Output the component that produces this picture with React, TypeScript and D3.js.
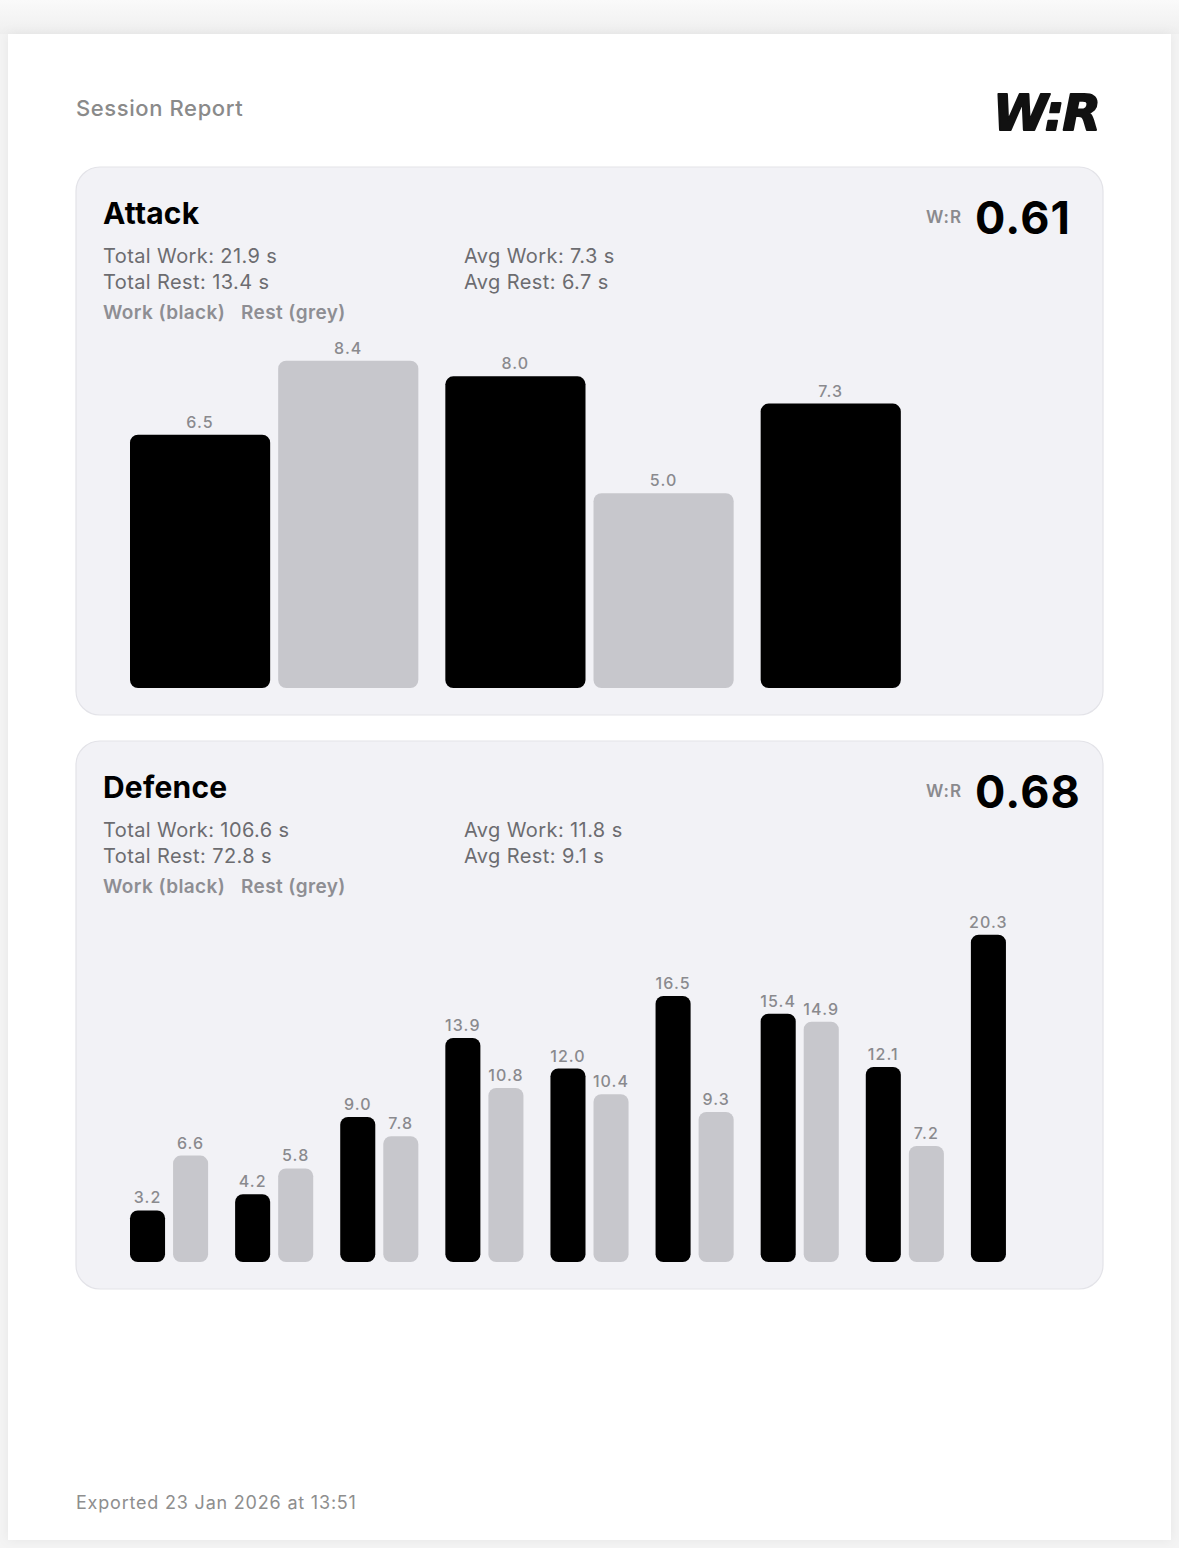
import React from "react";
import * as d3 from "d3";

const W = 1179;
const H = 1548;

const attackWork = [6.5, 8.0, 7.3];
const attackRest = [8.4, 5.0];
const defenceWork = [3.2, 4.2, 9.0, 13.9, 12.0, 16.5, 15.4, 12.1, 20.3];
const defenceRest = [6.6, 5.8, 7.8, 10.8, 10.4, 9.3, 14.9, 7.2];

const attackStats = ["Total Work: 21.9 s", "Total Rest: 13.4 s", "Avg Work: 7.3 s", "Avg Rest: 6.7 s"];
const defenceStats = ["Total Work: 106.6 s", "Total Rest: 72.8 s", "Avg Work: 11.8 s", "Avg Rest: 9.1 s"];

const FONT = "Inter, 'Noto Sans', sans-serif";

type PanelProps = {
  top: number;
  title: string;
  ratio: string;
  stats: string[];
  work: number[];
  rest: number[];
};

function Panel({ top, title, ratio, stats, work, rest }: PanelProps) {
  const px = 76;
  const pw = 1027;
  const ph = 548;
  const n = work.length;
  const max = d3.max([...work, ...rest]) as number;
  const x = d3
    .scaleBand<number>()
    .domain(d3.range(n))
    .range([130, 1076])
    .paddingInner(0)
    .paddingOuter(0);
  const step = x.step();
  const trail = 27;
  const gap = 8;
  const bw = (step - trail - gap) / 2;
  const y = d3.scaleLinear().domain([0, max * 1.1]).range([top + 521, top + 161]);
  const r = Math.min(8, bw / 4.5);

  const bars: { x: number; v: number; fill: string; key: string }[] = [];
  work.forEach((v, i) => bars.push({ x: x(i) as number, v, fill: "#000000", key: "w" + i }));
  rest.forEach((v, i) => bars.push({ x: (x(i) as number) + bw + gap, v, fill: "#c7c7cc", key: "r" + i }));

  const statStyle = { fontFamily: FONT, fontSize: 20, letterSpacing: 0.4, fill: "#6c6c70" } as const;

  return (
    <g>
      <rect x={px} y={top} width={pw} height={ph} rx={24} fill="#f2f2f6" stroke="#e3e3e8" strokeWidth={1.2} />
      <text x={103} y={top + 57} fontFamily={FONT} fontSize={30} fontWeight={700} letterSpacing={0.2} fill="#000">
        {title}
      </text>
      <text x={926} y={top + 56} fontFamily={FONT} fontSize={17} fontWeight={600} letterSpacing={1} fill="#8a8a8e">
        W:R
      </text>
      <text x={975} y={top + 67} fontFamily={FONT} fontSize={45} fontWeight={700} letterSpacing={1.2} fill="#000">
        {ratio}
      </text>
      <text x={103} y={top + 96} {...statStyle}>{stats[0]}</text>
      <text x={103} y={top + 122} {...statStyle}>{stats[1]}</text>
      <text x={464} y={top + 96} {...statStyle}>{stats[2]}</text>
      <text x={464} y={top + 122} {...statStyle}>{stats[3]}</text>
      <text x={103} y={top + 152} fontFamily={FONT} fontSize={19} fontWeight={600} letterSpacing={0.4} fill="#8e8e93">
        Work (black)
      </text>
      <text x={241} y={top + 152} fontFamily={FONT} fontSize={19} fontWeight={600} letterSpacing={0.4} fill="#8e8e93">
        Rest (grey)
      </text>
      {bars.map((b) => (
        <g key={b.key}>
          <rect x={b.x} y={y(b.v)} width={bw} height={y(0) - y(b.v)} rx={r} ry={r} fill={b.fill} />
          <text
            x={b.x + bw / 2}
            y={y(b.v) - 7}
            textAnchor="middle"
            fontFamily={FONT}
            fontSize={16}
            fontWeight={500}
            letterSpacing={1.1}
            fill="#8a8a8e"
          >
            {b.v.toFixed(1)}
          </text>
        </g>
      ))}
    </g>
  );
}

export default function App() {
  return (
    <svg
      width={W}
      height={H}
      viewBox={`0 0 ${W} ${H}`}
      style={{ position: "absolute", left: 0, top: 0, display: "block" }}
    >
      <defs>
        <linearGradient id="bgTop" x1="0" y1="0" x2="0" y2="1">
          <stop offset="0" stopColor="#fafafa" />
          <stop offset="1" stopColor="#efefef" />
        </linearGradient>
        <filter id="cardShadow" x="-5%" y="-5%" width="110%" height="110%">
          <feDropShadow dx="0" dy="0" stdDeviation="6" floodColor="#000" floodOpacity="0.06" />
        </filter>
      </defs>
      <rect x={0} y={0} width={W} height={H} fill="#f4f4f4" />
      <rect x={0} y={0} width={W} height={34} fill="url(#bgTop)" />
      <rect x={8} y={34} width={1163} height={1506} fill="#ffffff" filter="url(#cardShadow)" />
      <text x={76} y={116} fontFamily={FONT} fontSize={22} fontWeight={500} letterSpacing={0.6} fill="#8a8a8a">
        Session Report
      </text>
      <text
        x={993}
        y={130}
        fontFamily="'DejaVu Sans', sans-serif"
        fontSize={50}
        fontWeight={900}
        fontStyle="italic"
        textLength={106}
        lengthAdjust="spacingAndGlyphs"
        fill="#111"
        stroke="#111"
        strokeWidth={1.8}
        strokeLinejoin="round"
        letterSpacing={-2}
      >
        W:R
      </text>
      <Panel top={167} title="Attack" ratio="0.61" stats={attackStats} work={attackWork} rest={attackRest} />
      <Panel top={741} title="Defence" ratio="0.68" stats={defenceStats} work={defenceWork} rest={defenceRest} />
      <text x={76} y={1509} fontFamily={FONT} fontSize={18} letterSpacing={0.8} fill="#8e8e8e">
        Exported 23 Jan 2026 at 13:51
      </text>
    </svg>
  );
}
